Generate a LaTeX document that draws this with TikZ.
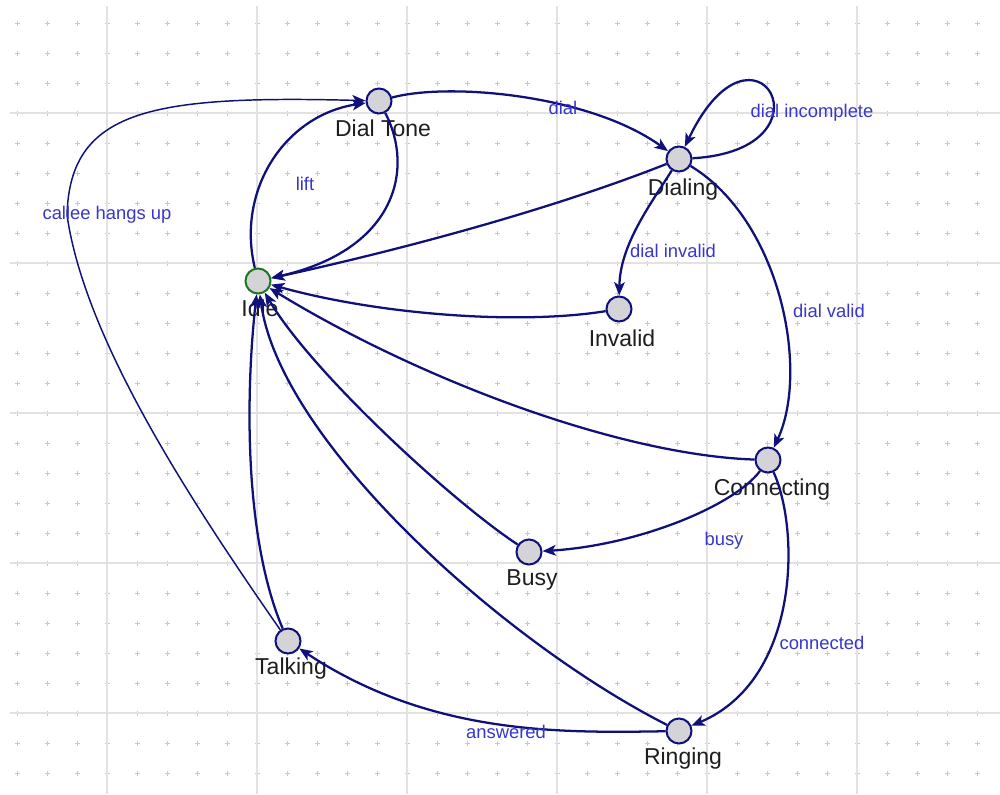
\documentclass[tikz,border=0pt]{standalone}
\usepackage{fontspec}
\setmainfont{Liberation Sans}
\usetikzlibrary{arrows.meta}
\definecolor{edgec}{RGB}{16,16,122}
\definecolor{nfill}{RGB}{211,211,216}
\definecolor{idlec}{RGB}{30,120,30}
\definecolor{elab}{RGB}{55,55,205}
\definecolor{gridc}{RGB}{226,226,226}
\definecolor{dotc}{RGB}{200,200,200}
\definecolor{txtc}{RGB}{30,30,30}
\begin{document}
\begin{tikzpicture}[x=0.75pt,y=-0.75pt,
 stnode/.style={circle,draw=edgec,fill=nfill,line width=1.5pt,minimum size=18.75pt,inner sep=0pt},
 startnode/.style={stnode,draw=idlec},
 lbl/.style={text=txtc,font=\fontsize{17.25}{20}\selectfont,inner sep=0pt,anchor=base},
 elbl/.style={text=elab,font=\fontsize{13.8}{16}\selectfont,inner sep=0pt,anchor=base},
 trans/.style={draw=edgec,line width=1.7pt,-{Stealth[length=10pt,width=8pt,inset=2.5pt]}},
 thintrans/.style={trans,line width=1.1pt},
 gridline/.style={draw=gridc,line width=0.8pt},
 gridmark/.style={draw=dotc,line width=0.6pt},
]
\useasboundingbox[fill=white] (0,0) rectangle (1000,794);
% grid marks
\draw[gridmark] \foreach \x in {17,47,...,977} {\foreach \y in {23,53,...,773} {(\x-2.5,\y) -- ++(5,0) (\x,\y-2.5) -- ++(0,5)}};
% grid lines
\foreach \x in {107,257,407,557,707,857} \draw[gridline] (\x,6) -- (\x,794);
\foreach \y in {113,263,413,563,713} \draw[gridline] (10,\y) -- (1000,\y);

% states
\node[startnode] (idle) at (258,281) {};
\node[stnode] (dialtone) at (379,101) {};
\node[stnode] (dialing) at (679,159) {};
\node[stnode] (invalid) at (619,309) {};
\node[stnode] (connecting) at (768,460) {};
\node[stnode] (busy) at (529,552) {};
\node[stnode] (talking) at (288,641) {};
\node[stnode] (ringing) at (679,731) {};

% state names
\node[lbl] (idlet) at (260,316) {Idle};
\node[lbl] (dialtonet) at (383,136) {Dial Tone};
\node[lbl] (dialingt) at (683,195) {Dialing};
\node[lbl] (invalidt) at (622,346) {Invalid};
\node[lbl] (connectingt) at (772,495) {Connecting};
\node[lbl] (busyt) at (532,585) {Busy};
\node[lbl] (talkingt) at (291,674) {Talking};
\node[lbl] (ringingt) at (683,764) {Ringing};

% transitions
\coordinate (cw) at (67,215);
\draw[thintrans] (talking) .. controls (190,500) and (85,340) .. (cw) .. controls (70,110) and (150,95) .. (dialtone);
\draw[trans] (idle) .. controls (236,190) and (285,115) .. (dialtone);
\draw[trans] (dialtone) .. controls (415,170) and (395,250) .. (idle);
\draw[trans] (dialtone) .. controls (450,82) and (590,95) .. (dialing);
\draw[trans] (dialing) .. controls (840,150) and (755,0) .. (dialing);
\draw[trans] (dialing) .. controls (550,210) and (400,250) .. (idle);
\draw[trans] (dialing) .. controls (650,205) and (620,245) .. (invalid);
\draw[trans] (dialing) .. controls (780,220) and (810,370) .. (connecting);
\draw[trans] (invalid) .. controls (520,325) and (380,315) .. (idle);
\draw[trans] (connecting) .. controls (620,455) and (420,380) .. (idle);
\draw[trans] (connecting) .. controls (735,505) and (640,545) .. (busy);
\draw[trans] (connecting) .. controls (800,530) and (800,680) .. (ringing);
\draw[trans] (busy) .. controls (450,500) and (310,370) .. (idle);
\draw[trans] (ringing) .. controls (560,733) and (430,735) .. (talking);
\draw[trans] (ringing) .. controls (500,640) and (280,440) .. (idle);
\draw[trans] (talking) .. controls (245,540) and (245,400) .. (idle);

% transition labels
\node[elbl] (l1) at (107,219) {callee hangs up};
\node[elbl] (l2) at (305,190) {lift};
\node[elbl] (l3) at (563,114) {dial};
\node[elbl] (l4) at (812,117) {dial incomplete};
\node[elbl] (l5) at (673,257) {dial invalid};
\node[elbl] (l6) at (829,317) {dial valid};
\node[elbl] (l7) at (724,545) {busy};
\node[elbl] (l8) at (822,649) {connected};
\node[elbl] (l9) at (506,738) {answered};
\end{tikzpicture}
\end{document}
